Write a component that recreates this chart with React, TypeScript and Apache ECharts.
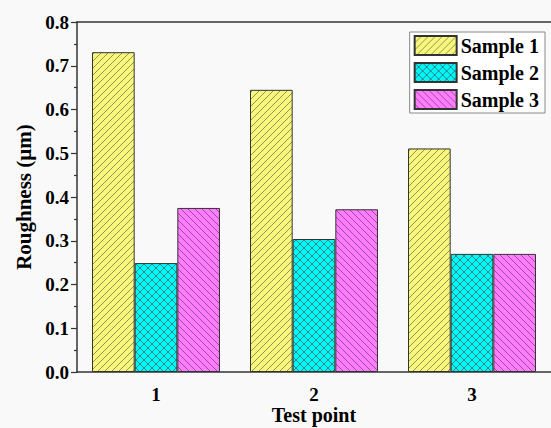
import React, { useEffect, useRef } from "react";
import * as echarts from "echarts";

const categories = ["1", "2", "3"];
const seriesNames = ["Sample 1", "Sample 2", "Sample 3"];
const sample1 = [0.731, 0.645, 0.511];
const sample2 = [0.249, 0.304, 0.27];
const sample3 = [0.375, 0.372, 0.27];
const yTicks = [0, 0.1, 0.2, 0.3, 0.4, 0.5, 0.6, 0.7, 0.8];

const FONT = "'Liberation Serif', 'Times New Roman', serif";

function makePattern(bg: string, kind: "fwd" | "back" | "cross", size: number, line: string) {
  const c = document.createElement("canvas");
  c.width = size;
  c.height = size;
  const ctx = c.getContext("2d")!;
  ctx.fillStyle = bg;
  ctx.fillRect(0, 0, size, size);
  ctx.strokeStyle = line;
  ctx.lineWidth = 0.8;
  const fwd = () => {
    ctx.beginPath();
    ctx.moveTo(-1, size + 1);
    ctx.lineTo(size + 1, -1);
    ctx.moveTo(-1, 1);
    ctx.lineTo(1, -1);
    ctx.moveTo(size - 1, size + 1);
    ctx.lineTo(size + 1, size - 1);
    ctx.stroke();
  };
  const back = () => {
    ctx.beginPath();
    ctx.moveTo(-1, -1);
    ctx.lineTo(size + 1, size + 1);
    ctx.moveTo(size - 1, -1);
    ctx.lineTo(size + 1, 1);
    ctx.moveTo(-1, size - 1);
    ctx.lineTo(1, size + 1);
    ctx.stroke();
  };
  if (kind === "fwd" || kind === "cross") fwd();
  if (kind === "back" || kind === "cross") back();
  return { image: c, repeat: "repeat", imageWidth: size, imageHeight: size } as any;
}

export default function App() {
  const ref = useRef<HTMLDivElement>(null);
  useEffect(() => {
    document.body.style.margin = "0";
    const chart = echarts.init(ref.current!, null, { renderer: "svg" });
    const p1 = makePattern("#f7f77c", "fwd", 7, "#7a7a50");
    const p2 = makePattern("#00f8f8", "cross", 8, "#3a6a6a");
    const p3 = makePattern("#ff7cff", "back", 7, "#804080");
    const data = [sample1, sample2, sample3];
    const pats = [p1, p2, p3];
    const option: any = {
      animation: false,
      backgroundColor: "#f9f9f9",
      textStyle: { fontFamily: FONT },
      grid: { left: 77, right: 0, top: 22, bottom: 56, containLabel: false, outerBoundsMode: "none" },
      legend: {
        right: 6,
        top: 32,
        orient: "vertical",
        itemWidth: 42,
        itemHeight: 19,
        itemGap: 6,
        padding: [3, 6, 3, 4],
        backgroundColor: "#ffffff",
        borderColor: "#888888",
        borderWidth: 1,
        borderRadius: 0,
        icon: "rect",
        textStyle: { fontFamily: FONT, fontWeight: "bold", fontSize: 20, color: "#000", padding: [0, 0, 0, -1] },
        data: seriesNames,
      },
      xAxis: [
        {
          type: "category",
          data: categories,
          position: "bottom",
          axisLine: { lineStyle: { color: "#333", width: 1.5 } },
          axisTick: { alignWithLabel: true, length: 6, lineStyle: { color: "#333", width: 1.2 } },
          axisLabel: { fontFamily: FONT, fontWeight: "bold", fontSize: 19, color: "#000", margin: 13 },
          name: "Test point",
          nameLocation: "middle",
          nameGap: 33,
          nameMoveOverlap: false,
          nameTextStyle: { fontFamily: FONT, fontWeight: "bold", fontSize: 20, color: "#000" },
        },
        {
          type: "category",
          data: categories,
          position: "bottom",
          axisLine: { show: false },
          axisTick: { length: 3, lineStyle: { color: "#333", width: 1.2 } },
          axisLabel: { show: false },
        },
        {
          type: "category",
          data: categories,
          position: "top",
          axisLine: { lineStyle: { color: "#333", width: 1.5 } },
          axisTick: { show: false },
          axisLabel: { show: false },
        },
      ],
      yAxis: {
        type: "value",
        min: 0,
        max: 0.8,
        interval: 0.1,
        axisLine: { show: true, lineStyle: { color: "#333", width: 1.5 } },
        axisTick: { show: true, length: 6, lineStyle: { color: "#333", width: 1.2 } },
        minorTick: { show: true, splitNumber: 2, length: 3, lineStyle: { color: "#333", width: 1.2 } },
        splitLine: { show: false },
        axisLabel: {
          fontFamily: FONT,
          fontWeight: "bold",
          fontSize: 19,
          color: "#000",
          margin: 8,
          formatter: (v: number) => {
            const t = yTicks.find((x) => Math.abs(x - v) < 1e-9);
            return (t !== undefined ? t : v).toFixed(1);
          },
        },
        name: "Roughness (µm)",
        nameLocation: "middle",
        nameGap: 43,
        nameMoveOverlap: false,
        nameTextStyle: { fontFamily: FONT, fontWeight: "bold", fontSize: 21, color: "#000" },
      },
      series: seriesNames.map((name, i) => ({
        name,
        type: "bar",
        xAxisIndex: 0,
        data: data[i],
        barGap: "0%",
        barCategoryGap: "19%",
        itemStyle: { color: pats[i], borderColor: "#333", borderWidth: 1 },
      })),
    };
    chart.setOption(option);
    return () => chart.dispose();
  }, []);
  return <div ref={ref} style={{ width: 551, height: 428 }} />;
}
